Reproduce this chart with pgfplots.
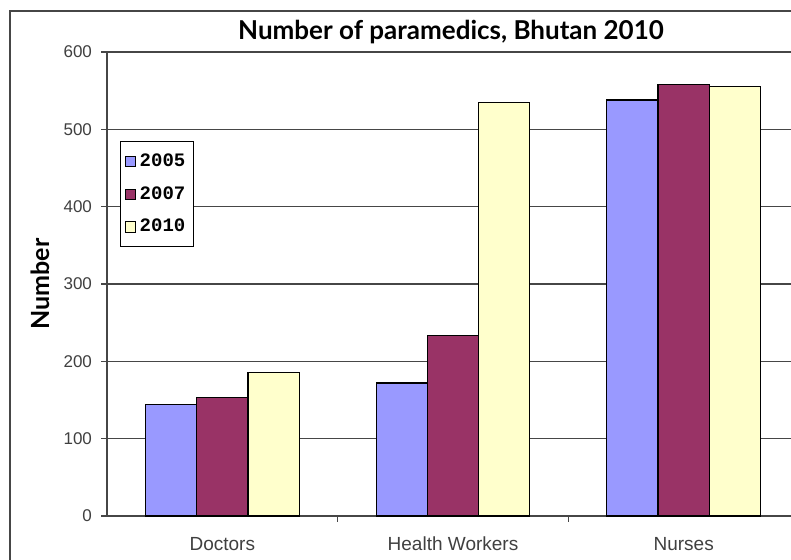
\documentclass[border=0pt]{standalone}
\usepackage{fontspec}
\setmainfont{Liberation Sans}
\newfontfamily\titlefont{Lato}
\newfontfamily\legfont{Liberation Mono}
\usepackage{pgfplots}
\pgfplotsset{compat=1.18}
\definecolor{c05}{RGB}{153,153,255}
\definecolor{c07}{RGB}{153,51,102}
\definecolor{c10}{RGB}{255,255,204}
\definecolor{gridc}{RGB}{70,70,70}

\begin{document}
\begin{tikzpicture}[x=1pt,y=1pt]
\path[use as bounding box] (0,0) rectangle (395.5,280);
\fill[white] (0,0) rectangle (395.5,280);
\draw[gridc, line width=1pt] (5,0) -- (5,274.5) -- (395.5,274.5);
\begin{axis}[
  at={(53.5pt,22pt)}, anchor=south west,
  scale only axis, width=346pt, height=232pt,
  ybar=0pt, bar width=0.222,
  xmin=-0.5, xmax=2.5, ymin=0, ymax=600,
  xtick={0,1,2}, xticklabels={Doctors,Health Workers,Nurses},
  xtick style={draw=none},
  extra x ticks={0.5,1.5}, extra x tick labels={},
  extra x tick style={xtick style={draw=gridc, line width=0.6pt}},
  ytick={0,100,...,600},
  axis x line=bottom, axis y line=left,
  axis line style={-, gridc, line width=0.8pt},
  ymajorgrids, grid style={gridc, line width=0.6pt},
  major tick length=3pt,
  tick align=outside,
  ytick style={gridc, line width=0.6pt},
  /pgf/number format/assume math mode=true,
  yticklabel style={font=\fontsize{8.5}{10}\selectfont, text=black!75, xshift=-1pt},
  xticklabel style={font=\fontsize{9.5}{11}\selectfont, text=black!75, yshift=-4pt},
  ylabel={\titlefont\bfseries Number},
  ylabel style={at={(axis description cs:-0.0968,0.5)}, anchor=center, font=\fontsize{12.5}{14}\selectfont},
  legend style={at={(axis description cs:0.0188,0.808)}, anchor=north west,
    draw=black, fill=white, line width=0.5pt,
    font=\legfont\bfseries\fontsize{9.5}{11}\selectfont,
    row sep=4.5pt, inner xsep=2pt, inner ysep=4pt},
  legend cell align=left,
  legend image code/.code={\draw[#1, line width=0.4pt] (0pt,-2.6pt) rectangle (5.2pt,2.6pt);},
  clip=false,
]
\addplot[fill=c05, draw=black, line width=0.6pt] coordinates {(0,144) (1,172) (2,538)};
\addlegendentry{2005}
\addplot[fill=c07, draw=black, line width=0.6pt] coordinates {(0,153) (1,233) (2,558)};
\addlegendentry{2007}
\addplot[fill=c10, draw=black, line width=0.6pt] coordinates {(0,186) (1,535) (2,555)};
\addlegendentry{2010}
\end{axis}
\node[font=\titlefont\bfseries\fontsize{13}{15}\selectfont, anchor=center] at (225.5,264) {Number of paramedics, Bhutan 2010};
\end{tikzpicture}
\end{document}
